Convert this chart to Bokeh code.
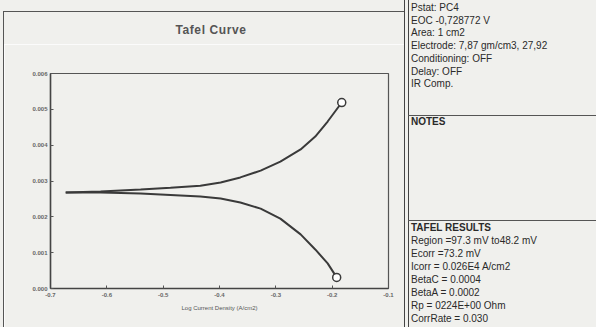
from bokeh.plotting import figure
from bokeh.layouts import row, column
from bokeh.models import Range1d, FixedTicker, NumeralTickFormatter, Div
from bokeh.embed import file_html
from bokeh.resources import INLINE

# ---- data ----
title_text = "Tafel Curve"
x_label = "Log Current Density (A/cm2)"
x_ticks = [-0.7, -0.6, -0.5, -0.4, -0.3, -0.2, -0.1]
y_ticks = [0.000, 0.001, 0.002, 0.003, 0.004, 0.005, 0.006]

upper_x = [-0.673, -0.611, -0.540, -0.487, -0.434, -0.398, -0.363, -0.327, -0.292, -0.256, -0.230, -0.208, -0.183]
upper_y = [0.00268, 0.00271, 0.00276, 0.00281, 0.00287, 0.00296, 0.00310, 0.00329, 0.00354, 0.00388, 0.00424, 0.00466, 0.00519]
lower_x = [-0.673, -0.611, -0.540, -0.487, -0.434, -0.398, -0.363, -0.327, -0.292, -0.256, -0.230, -0.208, -0.192]
lower_y = [0.00268, 0.00268, 0.00265, 0.00261, 0.00257, 0.00251, 0.00240, 0.00223, 0.00195, 0.00151, 0.00109, 0.00070, 0.00031]

info_lines = ["Pstat: PC4", "EOC -0,728772 V", "Area: 1 cm2",
              "Electrode: 7,87 gm/cm3, 27,92", "Conditioning: OFF",
              "Delay: OFF", "IR Comp."]
notes_title = "NOTES"
result_lines = ["TAFEL RESULTS", "Region =97.3 mV to48.2 mV", "Ecorr =73.2 mV",
                "Icorr = 0.026E4 A/cm2", "BetaC = 0.0004", "BetaA = 0.0002",
                "Rp = 0224E+00 Ohm", "CorrRate = 0.030"]

BG = "#f0f0ed"
INK = "#3a3a3a"
FONT = "Liberation Sans"

# ---- chart ----
p = figure(width=400, height=283, output_backend="svg", toolbar_location=None,
           x_range=Range1d(x_ticks[0], x_ticks[-1]), y_range=Range1d(y_ticks[0], y_ticks[-1]),
           min_border_left=46, min_border_right=16, min_border_top=29, min_border_bottom=39,
           background_fill_color=BG, border_fill_color=BG, margin=0)
p.grid.visible = False
p.outline_line_color = "#555555"
p.outline_line_width = 1.2

for ax in (p.xaxis[0], p.yaxis[0]):
    ax.axis_line_color = "#444444"
    ax.axis_line_width = 1.5
    ax.major_tick_in = 3
    ax.major_tick_out = 0
    ax.major_tick_line_color = "#555555"
    ax.minor_tick_line_color = None
    ax.major_label_text_font = FONT
    ax.major_label_text_font_size = "6px"
    ax.major_label_text_font_style = "bold"
    ax.major_label_text_color = "#666666"

p.xaxis.ticker = FixedTicker(ticks=x_ticks)
p.yaxis.ticker = FixedTicker(ticks=y_ticks)
p.xaxis.formatter = NumeralTickFormatter(format="0.0")
p.yaxis.formatter = NumeralTickFormatter(format="0.000")
p.xaxis.major_label_standoff = 4
p.yaxis.major_label_standoff = 3
p.xaxis.axis_label = x_label
p.xaxis.axis_label_text_font = FONT
p.xaxis.axis_label_text_font_size = "6px"
p.xaxis.axis_label_text_font_style = "normal"
p.xaxis.axis_label_text_color = "#555555"
p.xaxis.axis_label_standoff = 5

p.line(upper_x, upper_y, line_color=INK, line_width=2)
p.line(lower_x, lower_y, line_color=INK, line_width=2)
p.scatter([upper_x[-1], lower_x[-1]], [upper_y[-1], lower_y[-1]], marker="circle",
          size=8, line_color=INK, line_width=1.5, fill_color="white")

# ---- title strip with the chart's top border ----
top_html = (f'<div style="position:relative;width:400px;height:44px;overflow:hidden;background:{BG}">'
            '<div style="position:absolute;left:0;top:11px;width:400px;height:0;border-top:1.2px solid #555"></div>'
            f'<div style="position:absolute;left:0;width:414px;top:23px;text-align:center;'
            f'font-family:\'{FONT}\';font-size:12px;font-weight:bold;letter-spacing:0.6px;'
            f'line-height:14px;color:#555">{title_text}</div>'
            '</div>')
top_div = Div(text=top_html, width=400, height=44, margin=0)

left_html = (f'<div style="position:relative;width:4px;height:327px;background:{BG}">'
             '<div style="position:absolute;left:3px;top:11px;width:0;height:316px;border-left:1.2px solid #555"></div>'
             '</div>')
left_div = Div(text=left_html, width=4, height=327, margin=0)

# ---- side info panel ----
def text_line(t, y, bold=False):
    w = "bold" if bold else "normal"
    return (f'<div style="position:absolute;left:7px;top:{y - 6:.1f}px;white-space:nowrap;'
            f'font-weight:{w};line-height:12px">{t}</div>')

parts = []
for i, t in enumerate(info_lines):
    parts.append(text_line(t, 8 + i * 12.7))
parts.append(text_line(notes_title, 122, bold=True))
for i, t in enumerate(result_lines):
    parts.append(text_line(t, 228 + i * 13.0, bold=(i == 0)))
rules = ('<div style="position:absolute;left:0;top:0;width:0;height:327px;border-left:1.3px solid #444"></div>'
         '<div style="position:absolute;left:4px;top:0;width:0;height:327px;border-left:1.3px solid #444"></div>'
         '<div style="position:absolute;left:4px;top:115px;width:188px;height:0;border-top:1.3px solid #555"></div>'
         '<div style="position:absolute;left:4px;top:220px;width:188px;height:0;border-top:1.3px solid #555"></div>')
side_html = (f'<div style="position:relative;width:192px;height:327px;overflow:hidden;background:{BG};'
             f'font-family:\'{FONT}\';font-size:10px;color:#2a2a2a">' + rules + "".join(parts) + '</div>')
side = Div(text=side_html, width=192, height=327, margin=0)

layout = row(left_div, column(top_div, p, spacing=0, margin=0), side, spacing=0, margin=0)
open("out.html", "w").write(file_html(layout, INLINE))
